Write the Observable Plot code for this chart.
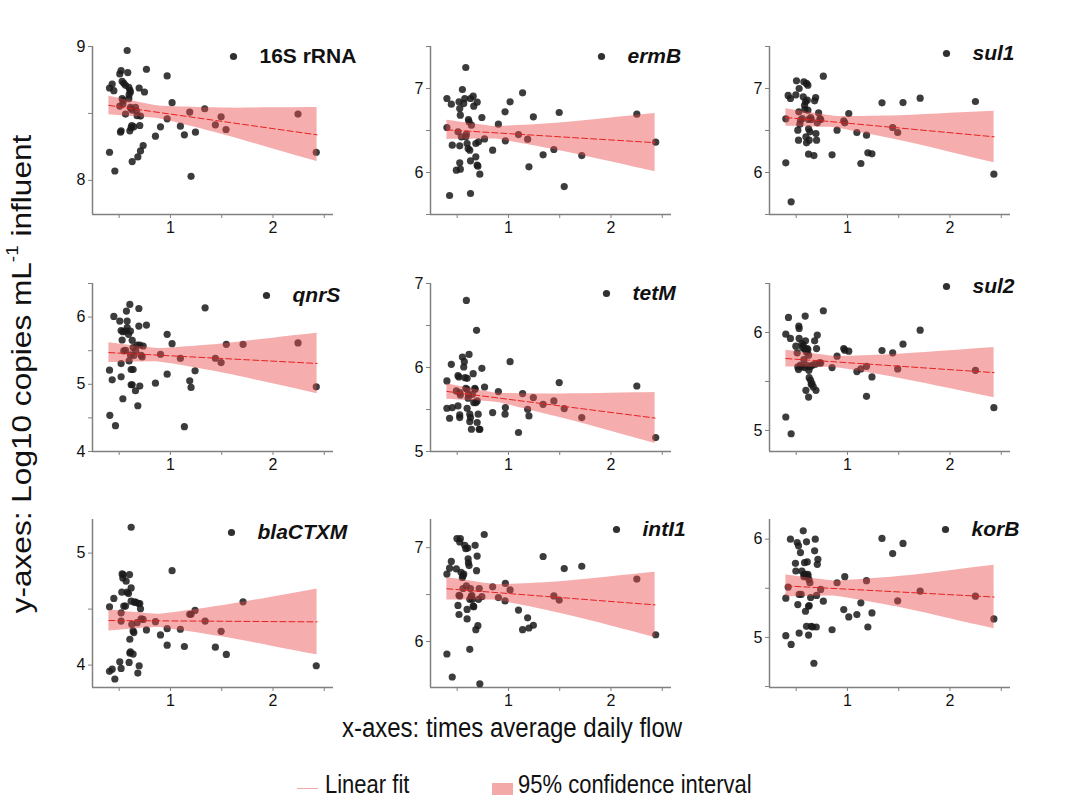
<!DOCTYPE html>
<html>
<head>
<meta charset="utf-8">
<script src="https://cdn.jsdelivr.net/npm/d3@7"></script>
<script src="https://cdn.jsdelivr.net/npm/@observablehq/plot@0.6"></script>
<style>
  html, body { margin: 0; padding: 0; background: #fff; }
  #root { position: relative; width: 1067px; height: 802px; font-family: "Liberation Sans", Arial, sans-serif; color: #111; overflow: hidden; }
  .panel { position: absolute; }
  .ytitle { position: absolute; left: 22px; top: 374px; transform: translate(-50%, -50%) rotate(-90deg) scaleX(1.17); white-space: nowrap; font-size: 27px; line-height: 27px; }
  .ytitle sup { font-size: 0.6em; vertical-align: 0.75em; line-height: 0; }
  .xtitle { position: absolute; left: 512px; top: 717px; transform: translateX(-50%) scaleY(1.15); transform-origin: 50% 80%; white-space: nowrap; font-size: 24px; line-height: 24px; }
  .legend { position: absolute; top: 775px; left: 0; width: 1067px; height: 27px; font-size: 22px; line-height: 22px; }
  .legend span { position: absolute; top: 0; white-space: nowrap; transform: scaleY(1.15); transform-origin: 0 80%; }
  .legend .line { position: absolute; left: 297px; top: 13px; width: 21px; height: 1px; background: #f0a8a8; }
  .legend .swatch { position: absolute; left: 492px; top: 8px; width: 21px; height: 12px; background: #f4a9a9; }
</style>
</head>
<body>
<div id="root"></div>
<script>
// ---- data ----
const genes = ["16S rRNA", "ermB", "sul1", "qnrS", "tetM", "sul2", "blaCTXM", "intI1", "korB"];
const xDomain = [0.24, 2.59];
const xTicks = [0.5, 1, 1.5, 2, 2.5];
const yMin = [7.745, 5.5, 5.5, 4.0, 5.0, 4.785, 3.8, 5.51, 4.49];
const yMax = [9.0, 7.5, 7.5, 6.5, 7.0, 6.5, 5.3, 7.3, 6.2];

// scatter points (x = times average daily flow, y = log10 copies/mL)
const x16S = [0.406,0.432,0.448,0.406,0.458,0.506,0.519,0.529,0.545,0.562,0.578,0.584,0.594,0.604,0.610,0.597,0.529,0.539,0.506,0.536,0.594,0.610,0.627,0.617,0.562,0.659,0.669,0.675,0.708,0.701,0.623,0.617,0.643,0.604,0.519,0.513,0.695,0.747,0.766,0.734,0.708,0.682,0.627,0.903,0.854,0.968,1.016,0.968,1.097,1.136,1.244,1.188,1.201,1.334,1.438,1.494,1.542,2.244,2.422];
const y16S = [8.69,8.72,8.67,8.21,8.07,8.795,8.82,8.74,8.725,8.71,8.97,8.805,8.695,8.675,8.66,8.64,8.61,8.595,8.555,8.57,8.61,8.545,8.525,8.535,8.495,8.545,8.518,8.483,8.48,8.41,8.41,8.395,8.40,8.37,8.37,8.36,8.69,8.66,8.83,8.26,8.22,8.175,8.14,8.40,8.33,8.78,8.58,8.46,8.405,8.34,8.36,8.51,8.03,8.535,8.415,8.475,8.38,8.495,8.21];

const xErmB = [0.40,0.443,0.40,0.452,0.426,0.492,0.508,0.518,0.525,0.531,0.541,0.525,0.525,0.531,0.551,0.564,0.574,0.584,0.590,0.584,0.597,0.607,0.610,0.616,0.623,0.630,0.630,0.639,0.656,0.662,0.682,0.682,0.695,0.702,0.695,0.721,0.708,0.741,0.767,0.630,0.846,0.902,0.967,0.970,1.016,1.098,1.138,1.187,1.20,1.243,1.338,1.443,1.495,1.544,1.715,2.252,2.436];
const yErmB = [6.881,6.813,6.536,6.325,5.726,6.028,6.484,6.841,6.762,6.683,6.425,6.317,6.115,6.04,6.988,6.821,6.881,7.25,6.456,6.425,6.345,6.286,6.631,6.603,6.266,6.139,6.881,6.563,6.909,6.79,6.345,6.187,6.087,6.075,6.837,5.98,6.365,6.655,6.40,5.75,6.266,6.575,6.722,6.377,6.841,6.452,6.948,6.397,6.067,6.663,6.21,6.274,6.714,5.833,6.202,6.694,6.361];

const xSul1 = [0.399,0.399,0.422,0.444,0.451,0.503,0.497,0.516,0.523,0.529,0.526,0.536,0.542,0.559,0.569,0.575,0.582,0.585,0.591,0.595,0.601,0.601,0.608,0.614,0.614,0.621,0.621,0.621,0.627,0.634,0.641,0.647,0.673,0.680,0.690,0.693,0.699,0.706,0.719,0.732,0.739,0.765,0.85,0.899,0.964,0.974,1.013,1.092,1.131,1.186,1.199,1.239,1.337,1.441,1.490,1.542,1.709,2.248,2.428];
const ySul1 = [6.639,6.115,6.917,6.881,5.651,7.091,6.925,6.504,6.385,7.0,6.722,6.575,6.623,6.643,6.901,7.079,6.798,6.75,6.841,6.425,6.353,7.06,6.861,7.04,6.742,6.631,6.52,6.218,6.385,6.484,6.655,6.631,6.202,6.853,6.893,6.464,6.385,6.591,6.71,6.643,6.631,7.147,6.21,6.504,6.615,6.591,6.702,6.476,6.107,6.444,6.234,6.222,6.829,6.536,6.476,6.833,6.885,6.845,5.98];

const xQnrS = [0.406,0.432,0.409,0.448,0.464,0.506,0.519,0.529,0.519,0.519,0.536,0.536,0.545,0.562,0.562,0.571,0.578,0.578,0.591,0.597,0.604,0.610,0.610,0.617,0.617,0.627,0.627,0.636,0.636,0.643,0.659,0.662,0.675,0.682,0.692,0.692,0.701,0.701,0.714,0.724,0.734,0.766,0.854,0.903,0.968,0.968,1.016,1.097,1.136,1.188,1.201,1.24,1.338,1.438,1.494,1.545,1.708,2.244,2.422];
const yQnrS = [5.21,5.067,4.538,6.01,4.385,5.941,5.80,5.659,5.309,5.111,5.783,4.785,5.496,5.793,5.506,6.089,5.941,5.842,5.743,5.348,6.188,5.793,5.437,5.22,4.993,5.654,4.993,5.22,5.546,5.427,4.904,5.496,5.585,4.681,6.128,5.867,4.973,5.585,5.432,5.407,5.57,5.881,5.017,5.447,5.743,5.151,5.605,5.388,4.37,5.052,4.953,5.20,6.138,5.388,5.323,5.595,5.595,5.615,4.963];

const xTetM = [0.40,0.40,0.426,0.443,0.452,0.492,0.508,0.508,0.518,0.525,0.525,0.525,0.531,0.551,0.564,0.570,0.577,0.584,0.590,0.597,0.597,0.597,0.607,0.610,0.616,0.623,0.623,0.630,0.639,0.649,0.656,0.662,0.672,0.675,0.689,0.695,0.705,0.715,0.721,0.741,0.767,0.682,0.695,0.846,0.902,0.967,0.970,1.016,1.098,1.138,1.187,1.20,1.243,1.338,1.443,1.495,1.544,1.715,2.252,2.436];
const yTetM = [5.84,5.515,5.396,6.038,5.523,5.721,5.903,5.543,5.887,5.701,5.436,5.404,5.673,6.125,6.006,6.069,5.879,5.752,6.798,5.741,5.515,5.871,5.634,5.673,6.156,5.444,5.356,5.404,5.265,5.681,5.927,5.582,5.752,5.741,6.442,5.345,5.444,5.265,5.265,5.99,5.768,5.582,5.602,5.463,5.713,5.444,5.523,6.069,5.226,5.689,5.503,5.424,5.642,5.562,5.602,5.82,5.511,5.404,5.78,5.166];

const xSul2 = [0.399,0.399,0.425,0.444,0.451,0.497,0.510,0.516,0.523,0.526,0.529,0.529,0.542,0.549,0.556,0.562,0.569,0.575,0.582,0.585,0.588,0.591,0.595,0.601,0.608,0.614,0.621,0.621,0.624,0.627,0.634,0.641,0.647,0.654,0.657,0.667,0.680,0.686,0.693,0.699,0.706,0.725,0.739,0.765,0.601,0.85,0.899,0.964,0.974,1.013,1.092,1.131,1.186,1.186,1.239,1.337,1.441,1.490,1.542,1.709,2.248,2.428];
const ySul2 = [5.983,5.137,6.154,5.939,4.966,5.86,5.792,5.648,5.621,6.065,6.041,5.939,5.666,5.648,5.887,5.846,5.870,5.724,5.829,5.642,6.167,5.915,5.41,5.799,5.836,5.826,5.768,5.341,5.614,5.539,5.648,5.512,5.471,5.478,5.666,5.444,5.915,5.676,5.41,5.836,5.973,5.689,5.689,6.222,5.666,5.642,5.758,5.836,5.819,5.809,5.601,5.628,5.655,5.348,5.546,5.816,5.792,5.628,5.881,6.024,5.614,5.232];

const xBla = [0.406,0.406,0.432,0.448,0.458,0.506,0.519,0.519,0.519,0.526,0.529,0.536,0.539,0.545,0.562,0.568,0.578,0.591,0.597,0.601,0.604,0.604,0.610,0.617,0.617,0.623,0.636,0.636,0.643,0.649,0.662,0.675,0.682,0.688,0.695,0.701,0.708,0.714,0.734,0.766,0.617,0.854,0.903,0.968,0.968,1.016,1.097,1.136,1.188,1.201,1.24,1.338,1.438,1.494,1.545,1.708,2.422];
const yBla = [4.521,3.944,3.964,4.595,3.876,4.03,4.467,4.393,3.97,4.651,4.814,4.778,4.808,4.527,4.527,4.749,4.651,4.639,4.024,4.808,4.107,4.231,4.118,4.689,4.571,4.364,4.098,4.305,4.29,4.562,4.562,4.379,3.929,4.55,3.994,4.55,4.503,4.414,4.408,4.314,5.231,4.388,4.269,4.325,4.178,4.843,4.32,4.166,4.453,4.453,4.488,4.393,4.16,4.302,4.095,4.565,3.994];

const xIntI1 = [0.40,0.426,0.40,0.443,0.452,0.492,0.498,0.508,0.518,0.525,0.525,0.531,0.538,0.551,0.557,0.557,0.564,0.574,0.584,0.590,0.597,0.597,0.603,0.607,0.610,0.616,0.623,0.623,0.630,0.636,0.643,0.649,0.656,0.662,0.675,0.682,0.689,0.695,0.702,0.708,0.715,0.721,0.741,0.764,0.518,0.846,0.902,0.967,0.970,1.016,1.098,1.138,1.187,1.20,1.243,1.338,1.443,1.495,1.544,1.715,2.252,2.436];
const yIntI1 = [6.719,6.781,5.867,6.853,5.622,6.773,7.097,6.385,6.288,6.486,7.061,7.097,6.737,6.683,6.701,6.565,6.719,7.025,6.989,6.594,6.342,6.241,6.996,6.881,6.838,6.809,6.45,5.917,6.565,6.478,6.493,6.45,6.378,6.371,7.025,6.126,6.755,6.91,6.169,6.45,6.565,5.55,6.478,7.14,6.493,6.583,6.468,6.432,6.619,6.55,6.335,6.126,6.252,6.144,6.173,6.906,6.486,6.442,6.777,6.802,6.665,6.072];

const xKorB = [0.399,0.399,0.422,0.444,0.451,0.493,0.497,0.510,0.516,0.523,0.529,0.529,0.542,0.549,0.556,0.569,0.575,0.582,0.591,0.595,0.601,0.601,0.608,0.614,0.621,0.621,0.624,0.627,0.634,0.641,0.647,0.660,0.673,0.680,0.686,0.696,0.699,0.706,0.712,0.739,0.765,0.614,0.591,0.575,0.85,0.899,0.964,0.974,1.013,1.092,1.131,1.186,1.199,1.239,1.337,1.441,1.490,1.542,1.709,2.248,2.428];
const yKorB = [5.017,5.399,5.512,6.0,4.928,5.754,5.676,5.966,5.334,5.932,5.044,5.437,5.863,5.437,5.676,6.085,5.642,5.761,5.266,5.625,5.973,5.113,5.768,5.625,5.317,5.024,5.59,5.324,5.556,5.406,5.113,5.106,4.737,5.881,6.0,5.106,5.427,5.744,5.795,5.488,5.369,5.642,5.642,5.618,5.078,5.556,5.283,5.618,5.208,5.232,5.352,5.577,5.106,5.249,6.007,5.853,5.372,5.956,5.471,5.42,5.188];

// linear fit (end points) and 95% confidence band
const fitX = [0.40, 2.43];
const fit16S = [8.56, 8.34];
const fitErmB = [6.508, 6.355];
const fitSul1 = [6.655, 6.425];
const fitQnrS = [5.472, 5.31];
const fitTetM = [5.715, 5.398];
const fitSul2 = [5.734, 5.59];
const fitBla = [4.398, 4.386];
const fitIntI1 = [6.562, 6.39];
const fitKorB = [5.524, 5.411];

const bandX = [0.40, 0.8, 1.0, 1.5, 2.0, 2.43];
const lo16S = [8.491, 8.468, 8.441, 8.344, 8.234, 8.14];
const hi16S = [8.629, 8.567, 8.551, 8.540, 8.542, 8.545];
const loErmB = [6.393, 6.398, 6.373, 6.260, 6.128, 6.008];
const hiErmB = [6.623, 6.558, 6.553, 6.590, 6.648, 6.702];
const loSul1 = [6.552, 6.538, 6.506, 6.383, 6.242, 6.115];
const hiSul1 = [6.758, 6.682, 6.668, 6.677, 6.706, 6.730];
const loQnrS = [5.323, 5.337, 5.308, 5.171, 5.007, 4.86];
const hiQnrS = [5.62, 5.545, 5.542, 5.601, 5.687, 5.76];
const loTetM = [5.622, 5.595, 5.554, 5.404, 5.240, 5.095];
const hiTetM = [5.808, 5.711, 5.690, 5.684, 5.692, 5.701];
const loSul2 = [5.648, 5.645, 5.624, 5.533, 5.427, 5.334];
const hiSul2 = [5.819, 5.765, 5.758, 5.779, 5.813, 5.846];
const loBla = [4.305, 4.334, 4.323, 4.253, 4.167, 4.092];
const hiBla = [4.491, 4.458, 4.465, 4.530, 4.609, 4.680];
const loIntI1 = [6.442, 6.441, 6.415, 6.300, 6.165, 6.043];
const hiIntI1 = [6.683, 6.617, 6.609, 6.638, 6.689, 6.737];
const loKorB = [5.413, 5.422, 5.402, 5.307, 5.191, 5.089];
const hiKorB = [5.635, 5.582, 5.580, 5.619, 5.679, 5.734];

// ---- layout (positions & styles, not data) ----
const xArrays = [x16S, xErmB, xSul1, xQnrS, xTetM, xSul2, xBla, xIntI1, xKorB];
const yArrays = [y16S, yErmB, ySul1, yQnrS, yTetM, ySul2, yBla, yIntI1, yKorB];
const fitArrays = [fit16S, fitErmB, fitSul1, fitQnrS, fitTetM, fitSul2, fitBla, fitIntI1, fitKorB];
const loArrays = [lo16S, loErmB, loSul1, loQnrS, loTetM, loSul2, loBla, loIntI1, loKorB];
const hiArrays = [hi16S, hiErmB, hiSul1, hiQnrS, hiTetM, hiSul2, hiBla, hiIntI1, hiKorB];
const colAxisX = [92, 430, 769];
const rowTop = [46, 283, 519];
const legendDx = [-100, -70, -64, -67, -65, -64, -102, -55, -65];
const legendDy = [10, 10, 7, 12, 10, 3, 13, 10, 10];
const ML = 40, MR = 49, MT = 12, MB = 35, W = 330, H = 215;
const axisGray = "#808080";
const fontFam = "'Liberation Sans', Arial, Helvetica, sans-serif";

const root = document.getElementById("root");

genes.forEach((gene, i) => {
  const xs = xArrays[i], ys = yArrays[i];
  const pts = xs.map((x, j) => ({x, y: ys[j]}));
  const band = bandX.map((x, j) => ({x, lo: loArrays[i][j], hi: hiArrays[i][j]}));
  const fit = fitX.map((x, j) => ({x, y: fitArrays[i][j]}));
  const dom = [yMin[i], yMax[i]];
  const yTicks = d3.range(Math.ceil(dom[0] * 2) / 2, dom[1] + 1e-6, 0.5);
  const intFmt = d => (Math.abs(d - Math.round(d)) < 1e-9 ? String(Math.round(d)) : "");
  const chart = Plot.plot({
    width: W, height: H,
    marginLeft: ML, marginRight: MR, marginTop: MT, marginBottom: MB,
    x: {domain: xDomain},
    y: {domain: dom},
    style: {fontFamily: fontFam, fontSize: "16px", color: "#111", background: "none", overflow: "visible"},
    marks: [
      Plot.axisX({ticks: xTicks, tickFormat: intFmt, tickSize: 4, tickPadding: 3, stroke: axisGray, fill: "#111", fontSize: 16, label: null}),
      Plot.axisY({ticks: yTicks, tickFormat: intFmt, tickSize: 4, tickPadding: 3, stroke: axisGray, fill: "#111", fontSize: 16, label: null}),
      Plot.ruleY([dom[0]], {stroke: axisGray, strokeWidth: 1.5}),
      Plot.ruleX([xDomain[0]], {stroke: axisGray, strokeWidth: 1.5}),
      Plot.dot(pts, {x: "x", y: "y", r: 3.6, fill: "#1a1a1a", fillOpacity: 0.85, stroke: "none"}),
      Plot.areaY(band, {x: "x", y1: "lo", y2: "hi", curve: "natural", fill: "#e84a4a", fillOpacity: 0.45}),
      Plot.line(fit, {x: "x", y: "y", stroke: "#e82020", strokeWidth: 1, strokeDasharray: "6,3"}),
      Plot.dot([gene], {frameAnchor: "top-right", dx: legendDx[i], dy: legendDy[i], r: 3.6, fill: "#1a1a1a", fillOpacity: 0.9, stroke: "none"}),
      Plot.text([gene], {text: d => d, frameAnchor: "top-right", dx: legendDx[i] + 26, dy: legendDy[i], textAnchor: "start", lineAnchor: "middle", fontSize: 21, fontWeight: "bold", fontStyle: i === 0 ? "normal" : "italic", fill: "#111"})
    ]
  });
  const col = i % 3, row = Math.floor(i / 3);
  const wrap = document.createElement("div");
  wrap.className = "panel";
  wrap.style.left = (colAxisX[col] - ML) + "px";
  wrap.style.top = (rowTop[row] - MT) + "px";
  wrap.style.width = W + "px";
  wrap.style.height = H + "px";
  wrap.appendChild(chart);
  root.appendChild(wrap);
});

const yt = document.createElement("div");
yt.className = "ytitle";
yt.innerHTML = "y-axes: Log10 copies mL<sup>-1</sup> influent";
root.appendChild(yt);

const xt = document.createElement("div");
xt.className = "xtitle";
xt.textContent = "x-axes: times average daily flow";
root.appendChild(xt);

const lg = document.createElement("div");
lg.className = "legend";
lg.innerHTML = '<div class="line"></div><span style="left:325px">Linear fit</span><div class="swatch"></div><span style="left:518px">95% confidence interval</span>';
root.appendChild(lg);
</script>
</body>
</html>
